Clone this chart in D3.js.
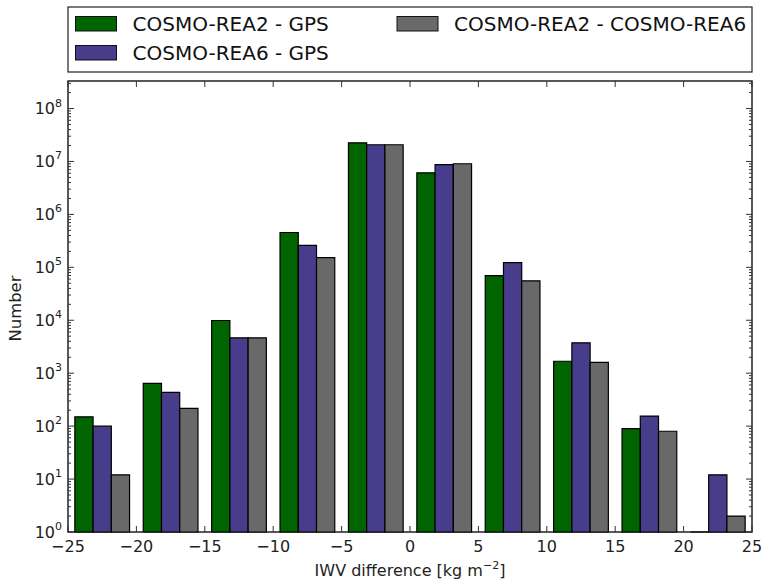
<!DOCTYPE html>
<html>
<head>
<meta charset="utf-8">
<script src="https://cdn.jsdelivr.net/npm/d3@7/dist/d3.min.js"></script>
<style>
  html, body { margin: 0; padding: 0; background: #fff; }
  svg { display: block; font-family: "DejaVu Sans", sans-serif; }
</style>
</head>
<body>
<svg id="chart" width="763" height="583"></svg>
<script>
// Histogram bin centres of the IWV difference (kg m^-2), bin width 5
const binCenters = [-22.5, -17.5, -12.5, -7.5, -2.5, 2.5, 7.5, 12.5, 17.5, 22.5];
const binWidth = 5;

// Counts per bin for each comparison
const rea2Gps  = [150, 640, 9900, 455000, 22500000, 6100000, 70000, 1680, 90, 1];
const rea6Gps  = [100, 435, 4650, 260000, 20700000, 8700000, 123000, 3750, 155, 12];
const rea2Rea6 = [12, 216, 4650, 152000, 20700000, 9050000, 55500, 1600, 80, 2];

const seriesNames = ["COSMO-REA2 - GPS", "COSMO-REA6 - GPS", "COSMO-REA2 - COSMO-REA6"];
const seriesColors = ["#006400", "#483d8b", "#696969"];
const seriesValues = [rea2Gps, rea6Gps, rea2Rea6];

const xTicks = [-25, -20, -15, -10, -5, 0, 5, 10, 15, 20, 25];
const yTickExponents = [0, 1, 2, 3, 4, 5, 6, 7, 8];

const svg = d3.select("#chart");
const pLeft = 68, pRight = 752, pTop = 81, pBottom = 532;

const x = d3.scaleLinear().domain([-25, 25]).range([pLeft, pRight]);
const y = d3.scaleLog().domain([1, Math.pow(10, 8.52)]).range([pBottom, pTop]);

const plot = svg.append("g");
plot.append("defs").append("clipPath").attr("id", "clip")
  .append("rect").attr("x", pLeft).attr("y", pTop - 1).attr("width", pRight - pLeft).attr("height", pBottom - pTop + 3);

// Frame
plot.append("rect").attr("x", pLeft).attr("y", pTop).attr("width", pRight - pLeft).attr("height", pBottom - pTop)
  .attr("fill", "none").attr("stroke", "#222").attr("stroke-width", 1.5);

// Grouped bars: three series share 80% of each bin; drawn as closed paths so
// a bar of height zero still shows its outline on the baseline
const groupW = binWidth * 0.8;
const barW = groupW / seriesValues.length;
const barsG = plot.append("g").attr("clip-path", "url(#clip)");
seriesValues.forEach((vals, j) => {
  barsG.selectAll(null)
    .data(vals.map((v, i) => ({ c: binCenters[i], v })))
    .enter().append("path")
    .attr("d", d => {
      const x0 = x(d.c - groupW / 2 + j * barW);
      const x1 = x(d.c - groupW / 2 + (j + 1) * barW);
      const y0 = y(d.v);
      return `M${x0},${pBottom}V${y0}H${x1}V${pBottom}Z`;
    })
    .attr("fill", seriesColors[j])
    .attr("stroke", "#000")
    .attr("stroke-width", 1.2);
});

// Axis ticks drawn inward on all four sides
const tickG = plot.append("g").attr("stroke", "#333").attr("stroke-width", 1);
xTicks.forEach(t => {
  tickG.append("line").attr("x1", x(t)).attr("x2", x(t)).attr("y1", pBottom).attr("y2", pBottom - 6);
  tickG.append("line").attr("x1", x(t)).attr("x2", x(t)).attr("y1", pTop).attr("y2", pTop + 6);
});
const yMax = y.domain()[1];
for (let e = 0; e <= 8; e++) {
  for (let m = 1; m <= 9; m++) {
    const v = m * Math.pow(10, e);
    if (v > yMax) continue;
    const len = m === 1 ? 6 : 3;
    tickG.append("line").attr("x1", pLeft).attr("x2", pLeft + len).attr("y1", y(v)).attr("y2", y(v));
    tickG.append("line").attr("x1", pRight).attr("x2", pRight - len).attr("y1", y(v)).attr("y2", y(v));
  }
}

// X tick labels
const fmtX = t => (t < 0 ? "\u2212" + Math.abs(t) : String(t));
svg.append("g").selectAll("text").data(xTicks).enter().append("text")
  .attr("x", d => x(d)).attr("y", pBottom + 20)
  .attr("text-anchor", "middle").attr("font-size", 16).attr("fill", "#222")
  .text(fmtX);

// Y tick labels as powers of ten
const yl = svg.append("g");
yTickExponents.forEach(e => {
  const t = yl.append("text").attr("x", pLeft - 6).attr("y", y(Math.pow(10, e)) + 5.5)
    .attr("text-anchor", "end").attr("font-size", 16).attr("fill", "#222");
  t.append("tspan").text("10");
  t.append("tspan").attr("font-size", 11).attr("dy", -7.5).text(e);
});

// Axis titles
svg.append("text").attr("x", (pLeft + pRight) / 2).attr("y", 576)
  .attr("text-anchor", "middle").attr("font-size", 16).attr("fill", "#222")
  .call(t => {
    t.append("tspan").text("IWV difference [kg m");
    t.append("tspan").attr("font-size", 11).attr("dy", -7).text("\u22122");
    t.append("tspan").attr("dy", 7).text("]");
  });
svg.append("text").attr("transform", `translate(21,${(pTop + pBottom) / 2 + 2}) rotate(-90)`)
  .attr("text-anchor", "middle").attr("font-size", 16.4).attr("fill", "#222").text("Number");

// Legend (two columns)
const lg = svg.append("g");
lg.append("rect").attr("x", pLeft).attr("y", 7).attr("width", pRight - pLeft).attr("height", 65)
  .attr("fill", "#fff").attr("stroke", "#222").attr("stroke-width", 1.2);
const legendPos = [[75.5, 16.5], [75.5, 45.5], [397, 16.5]];
seriesNames.forEach((name, j) => {
  const [lx, ly] = legendPos[j];
  lg.append("rect").attr("x", lx).attr("y", ly).attr("width", 41).attr("height", 14.5)
    .attr("fill", seriesColors[j]).attr("stroke", "#111").attr("stroke-width", 1);
  lg.append("text").attr("x", lx + 57).attr("y", ly + 14.8)
    .attr("font-size", 20).attr("fill", "#111").text(name);
});
</script>
</body>
</html>
